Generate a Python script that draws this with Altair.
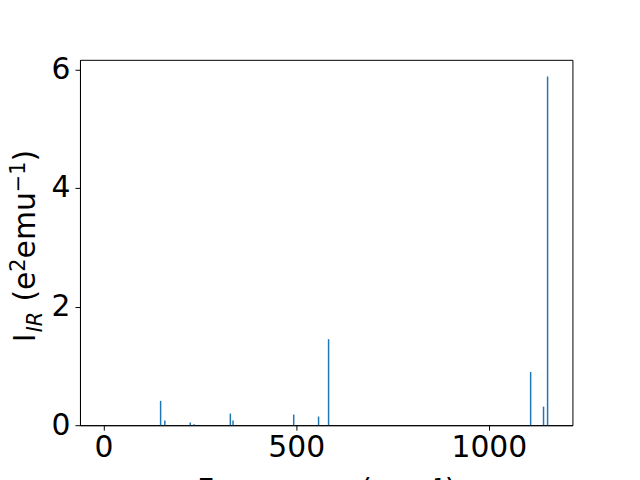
import altair as alt
import pandas as pd

freqs = [148, 159, 225, 235, 329, 336, 493.5, 558, 584, 1108.5, 1142, 1152.5]
intens = [0.41, 0.08, 0.045, 0.015, 0.196, 0.08, 0.18, 0.146, 1.45, 0.898, 0.313, 5.88]
x_ticks = [0, 500, 1000]
y_ticks = [0, 2, 4, 6]

df = pd.DataFrame({"freq": freqs, "inten": intens, "zero": [0.0] * len(freqs)})

FONT = "DejaVu Sans"

bars = alt.Chart(df).mark_rule(color="#1f77b4", strokeWidth=1.5).encode(
    x=alt.X("freq:Q",
            scale=alt.Scale(domain=[-61.3, 1217], nice=False, zero=False),
            axis=alt.Axis(values=x_ticks, format="d", title="Frequency (cm⁻¹)", grid=False,
                          labelFontSize=30, labelFont=FONT, labelColor="black",
                          labelPadding=3, tickSize=5, tickColor="black", tickWidth=1,
                          domainColor="black", domainWidth=1,
                          titleFont=FONT, titleFontSize=30, titleFontWeight="normal",
                          titleColor="black", titleY=51, titleBaseline="top")),
    y=alt.Y("zero:Q",
            scale=alt.Scale(domain=[0, 6.16], nice=False),
            axis=alt.Axis(values=y_ticks, format="d", title=None, grid=False,
                          labelFontSize=30, labelFont=FONT, labelColor="black",
                          labelPadding=5, tickSize=5, tickColor="black", tickWidth=1,
                          domainColor="black", domainWidth=1)),
    y2="inten:Q",
)

def vtext(txt, x, y, size, style="normal"):
    return alt.Chart(pd.DataFrame({"t": [txt]})).mark_text(
        angle=270, align="left", baseline="alphabetic", font=FONT,
        fontSize=size, fontStyle=style, color="black"
    ).encode(text="t:N", x=alt.value(x), y=alt.value(y))

BASE = -45.5
SUP = -55.0
SUB = -38.5
t1 = vtext("I", BASE, 284.5, 30)
t2 = vtext("IR", SUB, 274.5, 21, "italic")
t3 = vtext("(e", BASE, 243.5, 30)
t4 = vtext("2", SUP, 213.4, 21)
t5 = vtext("emu", BASE, 200.0, 30)
t6 = vtext("−1", SUP, 133.3, 21)
t7 = vtext(")", BASE, 102.3, 30)

chart = alt.layer(bars, t1, t2, t3, t4, t5, t6, t7).properties(
    width=496, height=368,
    autosize=alt.AutoSizeParams(type="none"),
    padding={"left": 72.5, "top": 50.5, "right": 60, "bottom": 53.5},
).configure_view(stroke="black", strokeWidth=1)

chart.save("out.html", embed_options={"renderer": "svg", "actions": False})
